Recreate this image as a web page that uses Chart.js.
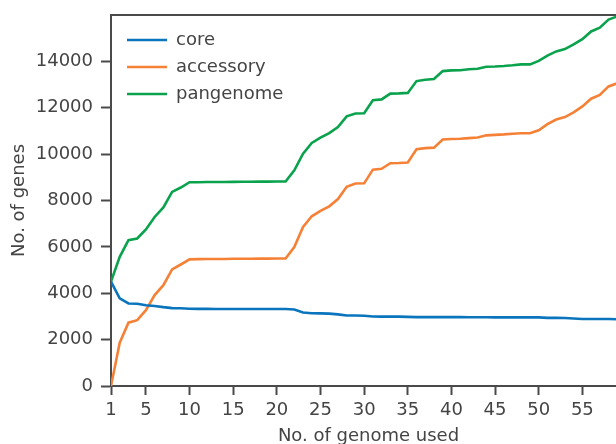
<!DOCTYPE html>
<html>
<head>
<meta charset="utf-8">
<script src="https://cdn.jsdelivr.net/npm/chart.js@4.4.0/dist/chart.umd.min.js"></script>
<style>
  html, body { margin: 0; padding: 0; background: #fff; overflow: hidden; }
  #wrap { position: absolute; left: 0; top: 0; width: 640px; height: 452px; }
</style>
</head>
<body>
<div id="wrap"><canvas id="curveChart" width="640" height="452"></canvas></div>
<script>
// Values
const genomes = [1, 2, 3, 4, 5, 6, 7, 8, 9, 10, 11, 12, 13, 14, 15, 16, 17, 18, 19, 20,
    21, 22, 23, 24, 25, 26, 27, 28, 29, 30, 31, 32, 33, 34, 35, 36, 37, 38, 39, 40,
    41, 42, 43, 44, 45, 46, 47, 48, 49, 50, 51, 52, 53, 54, 55, 56, 57, 58, 59];

const coreGenes = [4500, 3780, 3560, 3550, 3480, 3450, 3400, 3360, 3350, 3330,
    3325, 3325, 3320, 3320, 3320, 3320, 3320, 3320, 3320, 3320,
    3320, 3300, 3170, 3140, 3130, 3120, 3090, 3040, 3040, 3030,
    3000, 2990, 2990, 2990, 2980, 2970, 2970, 2970, 2970, 2970,
    2970, 2965, 2965, 2965, 2960, 2960, 2960, 2960, 2960, 2960,
    2940, 2940, 2930, 2910, 2890, 2890, 2890, 2890, 2880];

const accessoryGenes = [0, 1870, 2730, 2840, 3270, 3920, 4350, 5030, 5240, 5460,
    5470, 5475, 5480, 5480, 5485, 5490, 5490, 5495, 5495, 5500,
    5500, 5990, 6860, 7320, 7550, 7750, 8060, 8590, 8730, 8740,
    9330, 9370, 9610, 9620, 9640, 10210, 10260, 10280, 10630, 10650,
    10660, 10690, 10720, 10810, 10830, 10850, 10880, 10900, 10900, 11030,
    11290, 11490, 11600, 11800, 12060, 12390, 12550, 12920, 13060];

const panGenes = [4500, 5570, 6290, 6360, 6750, 7290, 7700, 8370, 8560, 8790,
    8790, 8795, 8800, 8800, 8805, 8810, 8810, 8815, 8815, 8820,
    8820, 9305, 10020, 10480, 10710, 10910, 11170, 11630, 11750, 11760,
    12320, 12360, 12610, 12620, 12640, 13150, 13210, 13240, 13580, 13610,
    13620, 13660, 13680, 13770, 13780, 13800, 13830, 13870, 13870, 14020,
    14250, 14430, 14530, 14730, 14960, 15290, 15450, 15800, 15940];

const xTickValues = [1, 5, 10, 15, 20, 25, 30, 35, 40, 45, 50, 55];
const yTickValues = [0, 2000, 4000, 6000, 8000, 10000, 12000, 14000];

const ink = '#444444';
const spine = '#4a4a4a';
const font18 = { family: "'DejaVu Sans', sans-serif", size: 18 };

function series(label, values, color) {
    return {
        label: label,
        data: genomes.map((g, i) => ({ x: g, y: values[i] })),
        borderColor: color,
        backgroundColor: color,
        borderWidth: 2.6,
        pointRadius: 0,
        tension: 0
    };
}

// nudge the in-plot legend away from the corner, like the matplotlib one
const legendNudge = {
    id: 'legendNudge',
    afterLayout(chart) {
        chart.legend.left += 7;
        chart.legend.top += 22;
    }
};

const ctx = document.getElementById('curveChart').getContext('2d');
new Chart(ctx, {
    type: 'line',
    data: {
        datasets: [
            series('core', coreGenes, '#0a75bd'),
            series('accessory', accessoryGenes, '#f58137'),
            series('pangenome', panGenes, '#0aa24c')
        ]
    },
    plugins: [legendNudge],
    options: {
        responsive: false,
        animation: false,
        devicePixelRatio: 1,
        layout: { padding: { left: 0, top: 0, right: 14, bottom: 0 } },
        plugins: {
            tooltip: { enabled: false },
            legend: {
                position: 'chartArea',
                align: 'start',
                labels: {
                    color: ink,
                    font: font18,
                    usePointStyle: true,
                    pointStyle: 'line',
                    pointStyleWidth: 40,
                    padding: 9
                }
            }
        },
        scales: {
            x: {
                type: 'linear',
                min: 1,
                max: 60,
                afterFit: s => { s.height = 66; s.paddingLeft = 0; s.paddingRight = 0; },
                afterBuildTicks: s => { s.ticks = xTickValues.map(v => ({ value: v })); },
                grid: { display: true, drawOnChartArea: false, drawTicks: true, tickLength: 9, tickWidth: 2, color: spine },
                border: { display: true, color: spine, width: 2 },
                ticks: { color: ink, font: font18, padding: 5, maxRotation: 0, autoSkip: false },
                title: { display: true, text: 'No. of genome used', color: ink, font: font18, padding: { top: 0, bottom: 5 } }
            },
            x2: {
                type: 'linear',
                position: 'top',
                min: 1,
                max: 60,
                afterFit: s => { s.height = 15; },
                grid: { display: false },
                border: { display: true, color: spine, width: 2 },
                ticks: { display: false }
            },
            y: {
                type: 'linear',
                min: 0,
                max: 16000,
                afterFit: s => { s.width = 111; s.paddingTop = 0; s.paddingBottom = 0; },
                afterBuildTicks: s => { s.ticks = yTickValues.map(v => ({ value: v })); },
                grid: { display: true, drawOnChartArea: false, drawTicks: true, tickLength: 10, tickWidth: 2, color: spine },
                border: { display: true, color: spine, width: 2 },
                ticks: { color: ink, font: font18, padding: 8, callback: v => String(v) },
                title: { display: true, text: 'No. of genes', color: ink, font: font18, padding: { top: 9, bottom: 0 } }
            }
        }
    }
});
</script>
</body>
</html>
